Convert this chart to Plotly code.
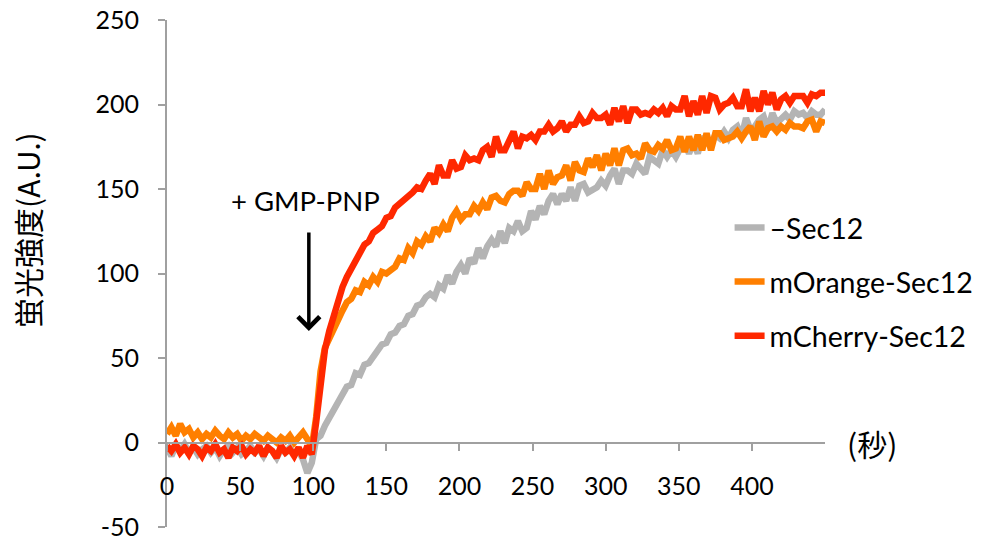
import plotly.graph_objects as go

time_s = list(range(0, 451, 3))

sec12_none = [
    -3, -8, -2, -5, -1, -6, -3, -7, -4, -2, -6, -3, -8, -4, -2, -6, -3, -7, -5, -2,
    -6, -4, -8, -3, -5, -9, -4, -6, -3, -7, -5, -10, -18, -12, 2, 4, 10, 15, 20, 24,
    28, 33, 34, 41, 40, 46, 47, 51, 54, 58, 59, 64, 65, 69, 70, 75, 76, 81, 82, 86,
    88, 86, 93, 91, 99, 94, 101, 105, 100, 109, 106, 115, 109, 116, 120, 116, 125, 118, 127, 125,
    131, 125, 127, 137, 132, 140, 135, 143, 147, 141, 147, 143, 151, 143, 152, 153, 148, 150, 151, 155,
    152, 158, 162, 153, 161, 161, 159, 165, 162, 159, 169, 167, 165, 173, 169, 173, 169, 174, 178, 171,
    178, 171, 181, 177, 177, 182, 180, 184, 180, 185, 187, 181, 192, 185, 187, 191, 193, 185, 195, 189,
    191, 194, 191, 196, 194, 195, 192, 196, 194, 194, 197,
]

morange_sec12 = [
    5, 9, 4, 11, 6, 8, 3, 6, 2, 5, 3, 7, 4, 2, 6, 3, 5, 1, 4, 2,
    5, 3, 1, 4, 2, 0, 3, 1, 4, 0, 3, 6, 2, -3, 15, 42, 56, 62, 67, 73,
    78, 83, 85, 90, 89, 95, 93, 98, 95, 101, 100, 102, 104, 109, 108, 115, 112, 119, 117, 122,
    119, 127, 124, 129, 125, 133, 137, 132, 135, 135, 140, 137, 142, 138, 145, 146, 143, 142, 147, 149,
    149, 146, 154, 150, 150, 159, 150, 161, 153, 157, 158, 164, 155, 166, 161, 160, 168, 163, 170, 161,
    171, 164, 174, 164, 173, 174, 170, 171, 168, 177, 173, 172, 176, 174, 179, 173, 174, 181, 172, 181,
    173, 182, 173, 183, 173, 183, 183, 179, 180, 181, 184, 180, 184, 187, 179, 190, 181, 186, 187, 184,
    187, 185, 189, 187, 187, 186, 190, 191, 184, 190, 189,
]

mcherry_sec12 = [
    -2, -5, -1, -6, -3, -7, -2, -4, -8, -3, -5, -1, -6, -4, -9, -3, -5, -2, -7, -4,
    -6, -2, -8, -3, -5, -9, -2, -6, -4, -8, -3, -9, -2, -7, 12, 36, 55, 66, 75, 85,
    92, 98, 103, 108, 111, 117, 119, 124, 126, 128, 133, 134, 139, 141, 143, 146, 148, 151, 150, 155,
    159, 153, 164, 158, 158, 167, 162, 163, 170, 167, 168, 167, 173, 175, 169, 181, 173, 173, 178, 184,
    174, 181, 180, 182, 179, 184, 184, 188, 184, 186, 190, 184, 188, 188, 193, 189, 190, 195, 192, 192,
    194, 188, 198, 190, 199, 189, 197, 197, 194, 195, 194, 197, 195, 198, 193, 199, 197, 197, 205, 193,
    202, 194, 205, 195, 205, 204, 197, 200, 201, 204, 199, 199, 209, 196, 204, 196, 208, 200, 207, 197,
    203, 205, 201, 205, 205, 205, 201, 206, 205, 207, 207,
]

series_names = ["\u2013Sec12", "mOrange-Sec12", "mCherry-Sec12"]
series_values = [sec12_none, morange_sec12, mcherry_sec12]
series_colors = ["#b4b4b4", "#ff7f00", "#ff2800"]

x_ticks = [0, 50, 100, 150, 200, 250, 300, 350, 400]
y_ticks = [-50, 0, 50, 100, 150, 200, 250]

FONT = "Lato, 'Noto Sans CJK JP', sans-serif"
JP = "'Noto Sans CJK JP', Lato, sans-serif"

fig = go.Figure()
for i, (name, vals, col) in enumerate(zip(series_names, series_values, series_colors)):
    fig.add_trace(go.Scatter(
        x=time_s, y=vals, mode="lines", name=name,
        line=dict(color=col, width=6.5),
        legendgroup=f"g{i}",
    ))

fig.update_layout(
    width=1000, height=542,
    margin=dict(l=167, r=175, t=20, b=15),
    paper_bgcolor="white", plot_bgcolor="white",
    font=dict(family=FONT, size=25, color="#000000"),
    showlegend=True,
    legend=dict(
        x=0.855, y=0.64, xanchor="left", yanchor="top",
        font=dict(family=FONT, size=28.5, color="#000000"),
        tracegroupgap=14, bgcolor="rgba(0,0,0,0)",
    ),
    xaxis=dict(
        range=[0, 450], tickvals=x_ticks, ticktext=[str(v) for v in x_ticks],
        showgrid=False, zeroline=False, showline=True, linecolor="#a0a0a0", linewidth=2,
        ticks="outside", ticklen=7, tickcolor="#a0a0a0", tickwidth=2,
        anchor="free", position=50 / 300, automargin=False,
        ticklabelstandoff=14,
        tickfont=dict(family=FONT, size=25, color="#000000"),
    ),
    yaxis=dict(
        range=[-50, 250], tickvals=y_ticks, ticktext=[str(v) for v in y_ticks],
        showgrid=False, zeroline=False, showline=True, linecolor="#a0a0a0", linewidth=2,
        ticks="outside", ticklen=7, tickcolor="#a0a0a0", tickwidth=2,
        automargin=False, ticklabelstandoff=14,
        tickfont=dict(family=FONT, size=25, color="#000000"),
    ),
)

# y-axis title
fig.add_annotation(
    text="蛍光強度(A.U.)", xref="paper", yref="paper",
    x=(27 - 167) / 658, y=1 - (230 - 20) / 507, showarrow=False,
    xanchor="center", yanchor="middle",
    textangle=-90, font=dict(family=JP, size=30, color="#000000"),
)
# x-axis unit
fig.add_annotation(
    text="(秒)", xref="paper", yref="y",
    x=(872 - 167) / 658, y=0, showarrow=False,
    xanchor="center", yanchor="middle",
    font=dict(family=JP, size=30, color="#000000"),
)
# GMP-PNP label and arrow
fig.add_annotation(
    text="+ GMP-PNP", xref="x", yref="y", x=95, y=143, showarrow=False,
    xanchor="center", yanchor="middle",
    font=dict(family=FONT, size=27.5, color="#000000"),
)
fig.add_annotation(
    text="", xref="x", yref="y", x=97, y=66, ax=0, ay=-100,
    showarrow=True, arrowhead=4, arrowsize=1.2, arrowwidth=3.5, arrowcolor="#000000",
)

fig.write_html("out.html")
